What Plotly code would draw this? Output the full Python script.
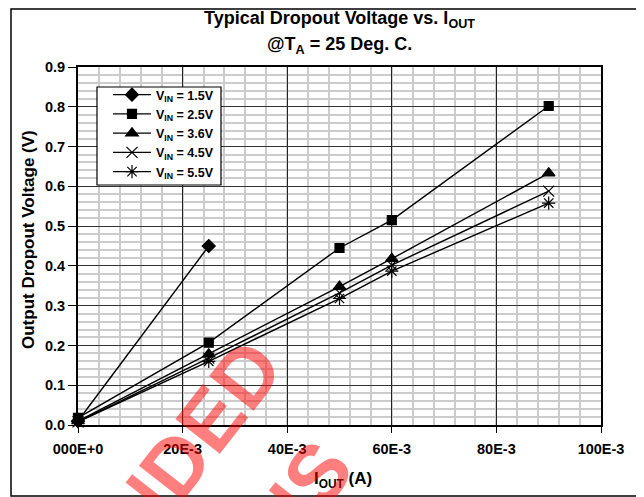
import plotly.graph_objects as go

# load current (A)
iout_15 = [0.0, 0.025]
iout_all = [0.0, 0.025, 0.050, 0.060, 0.090]

# dropout voltage (V)
vdo_15 = [0.01, 0.45]
vdo_25 = [0.018, 0.207, 0.445, 0.515, 0.802]
vdo_36 = [0.01, 0.178, 0.348, 0.418, 0.633]
vdo_45 = [0.008, 0.168, 0.332, 0.402, 0.588]
vdo_55 = [0.008, 0.16, 0.318, 0.387, 0.558]

series = [
    ("V<sub>IN</sub> = 1.5V", iout_15, vdo_15, "diamond", 10),
    ("V<sub>IN</sub> = 2.5V", iout_all, vdo_25, "square", 9),
    ("V<sub>IN</sub> = 3.6V", iout_all, vdo_36, "triangle-up", 11),
    ("V<sub>IN</sub> = 4.5V", iout_all, vdo_45, "x-thin", 11),
    ("V<sub>IN</sub> = 5.5V", iout_all, vdo_55, "asterisk", 11),
]

x_ticks = [0.0, 0.02, 0.04, 0.06, 0.08, 0.10]
x_ticktext = ["000E+0", "20E-3", "40E-3", "60E-3", "80E-3", "100E-3"]

FONT = "Arial, Liberation Sans, sans-serif"

fig = go.Figure()
for name, xs, ys, sym, sz in series:
    fig.add_trace(go.Scatter(
        x=xs, y=ys, name=name, mode="lines+markers",
        line=dict(color="black", width=1.4),
        marker=dict(symbol=sym, size=sz, color="black",
                    line=dict(color="black", width=1.2)),
        cliponaxis=False,
    ))

# page body has an 8px margin, so lay out in page pixels shifted by OFF
OFF = 8
W, H = 644 - OFF, 497 - OFF
L, R, T, B = 78 - OFF, W - (601 - OFF), 67 - OFF, H - (425 - OFF)
pw, ph = W - L - R, H - T - B

def px(xp):
    return (xp - OFF - L) / pw

def py(yp):
    return (H - B - (yp - OFF)) / ph

fig.update_layout(
    width=W, height=H,
    margin=dict(l=L, r=R, t=T, b=B),
    paper_bgcolor="white", plot_bgcolor="white",
    font=dict(family=FONT, color="black", size=14, weight="bold"),
    showlegend=True,
    legend=dict(
        x=px(108), y=py(80), xanchor="left", yanchor="top",
        bgcolor="rgba(0,0,0,0)", borderwidth=0,
        font=dict(family=FONT, size=12.5, weight="bold"),
        tracegroupgap=0, itemwidth=38,
    ),
    xaxis=dict(
        range=[0, 0.1], tickvals=x_ticks, ticktext=x_ticktext,
        showgrid=True, gridcolor="#222222", gridwidth=1,
        minor=dict(dtick=0.004, showgrid=True, gridcolor="#cccccc", gridwidth=1.5),
        showline=True, linecolor="black", linewidth=2, mirror=True,
        ticks="outside", ticklen=6, tickcolor="black", ticklabelstandoff=4,
        tickfont=dict(size=14.5, weight="bold"), zeroline=False,
    ),
    yaxis=dict(
        range=[0, 0.9], dtick=0.1, tickformat=".1f",
        showgrid=True, gridcolor="#333333", gridwidth=1.3,
        minor=dict(dtick=0.02, showgrid=True, gridcolor="#cccccc", gridwidth=1.5),
        showline=True, linecolor="black", linewidth=2, mirror=True,
        ticks="outside", ticklen=8, tickcolor="black",
        tickfont=dict(size=14.5, weight="bold"), zeroline=False,
    ),
)

# outer frame
fig.add_shape(type="rect", xref="paper", yref="paper",
              x0=px(11), x1=px(642), y0=py(496), y1=py(9),
              line=dict(color="black", width=1.5), layer="below")
# legend box
fig.add_shape(type="rect", xref="paper", yref="paper",
              x0=px(97), x1=px(221), y0=py(185), y1=py(87),
              line=dict(color="black", width=1.2), fillcolor="white", layer="above")

# titles
fig.add_annotation(text="Typical Dropout Voltage vs. I<sub>OUT</sub>", xref="paper", yref="paper",
                   x=0.5, y=py(20), xanchor="center", yanchor="middle", showarrow=False,
                   font=dict(size=18, weight="bold"))
fig.add_annotation(text="@T<sub>A</sub> = 25 Deg. C.", xref="paper", yref="paper",
                   x=0.5, y=py(46), xanchor="center", yanchor="middle", showarrow=False,
                   font=dict(size=18, weight="bold"))
fig.add_annotation(text="Output Dropout Voltage (V)", xref="paper", yref="paper",
                   x=px(28), y=py(240), xanchor="center", yanchor="middle",
                   textangle=-90, showarrow=False, font=dict(size=17, weight="bold"))
fig.add_annotation(text="I<sub>OUT</sub> (A)", xref="paper", yref="paper",
                   x=px(343), y=py(480), xanchor="center", yanchor="middle",
                   showarrow=False, font=dict(size=17, weight="bold"))

# watermark
wm_font = dict(size=82, weight="bold", color="rgba(255,0,0,0.5)")
fig.add_annotation(text="NOT RECOMMENDED", xref="paper", yref="paper",
                   x=px(0), y=py(688), xanchor="center", yanchor="middle",
                   textangle=-52, showarrow=False, font=wm_font)
fig.add_annotation(text="FOR NEW DESIGNS", xref="paper", yref="paper",
                   x=px(94), y=py(759), xanchor="center", yanchor="middle",
                   textangle=-52, showarrow=False, font=wm_font)

fig.write_html("out.html")
